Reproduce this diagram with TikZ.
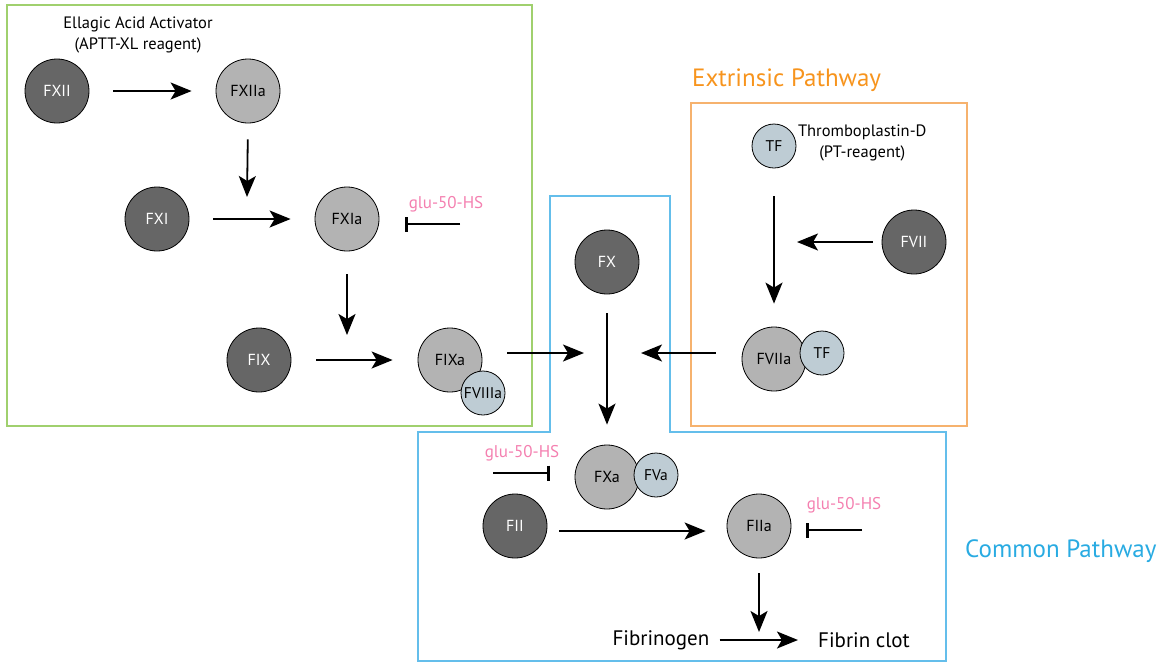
\documentclass[tikz,border=0pt]{standalone}
\usepackage{fontspec}
\setmainfont{PT Sans}
\usetikzlibrary{arrows.meta, positioning}

\definecolor{darkfactor}{RGB}{102,102,102}
\definecolor{lightfactor}{RGB}{179,179,179}
\definecolor{cofactorblue}{RGB}{190,204,212}
\definecolor{intrinsicgreen}{RGB}{160,208,110}
\definecolor{extrinsicorange}{RGB}{247,148,29}
\definecolor{extrinsicbox}{RGB}{246,178,110}
\definecolor{commonblue}{RGB}{41,171,226}
\definecolor{commonbox}{RGB}{100,190,235}
\definecolor{glupink}{RGB}{244,128,176}

\tikzset{
    zymogen/.style = {circle, draw = black, line width = 0.8pt, fill = darkfactor,
        text = white, minimum size = 64pt, inner sep = 0pt,
        font = \fontsize{16}{19}\selectfont},
    enzyme/.style = {zymogen, fill = lightfactor, text = black},
    cofactor/.style = {zymogen, fill = cofactorblue, text = black, minimum size = 44pt,
        font = \fontsize{15.5}{18}\selectfont},
    act/.style = {line width = 1.8pt, -{Stealth[length = 21pt, width = 17pt, inset = 5pt]}},
    inhib/.style = {line width = 1.8pt, -{Bar[width = 15pt, line width = 3pt]}},
    gap/.style = {shorten <= #1, shorten >= #1},
    glu/.style = {text = glupink, inner sep = 0pt, font = \fontsize{17}{20}\selectfont},
    reagent/.style = {align = center, inner sep = 0pt, font = \fontsize{16.5}{21}\selectfont},
    pathway/.style = {inner sep = 0pt, font = \fontsize{25}{28}\selectfont},
    plain/.style = {inner sep = 0pt, font = \fontsize{21}{24}\selectfont}
}

\begin{document}
\begin{tikzpicture}[x = 1pt, y = -1pt]

    \useasboundingbox (0,0) rectangle (1167,665);

    % pathway boxes
    \draw[intrinsicgreen, line width = 1.2pt] (7,5) rectangle (532,426);
    \draw[extrinsicbox, line width = 1.2pt] (691,103) rectangle (967,426);
    \draw[commonbox, line width = 1.2pt]
        (550,196) -- (670,196) -- (670,432) -- (946,432) -- (946,661)
        -- (418,661) -- (418,432) -- (550,432) -- cycle;

    \node[pathway, text = extrinsicorange, anchor = west] (extr) at (692,80) {Extrinsic Pathway};
    \node[pathway, text = commonblue, anchor = west] (comm) at (965,551) {Common Pathway};

    % intrinsic pathway
    \node[reagent] (ellagic) at (138,35) {Ellagic Acid Activator\\(APTT-XL reagent)};
    \node[zymogen] (FXII) at (57,91) {FXII};
    \node[enzyme] (FXIIa) at (248,91) {FXIIa};
    \node[zymogen] (FXI) at (157,219) {FXI};
    \node[enzyme] (FXIa) at (347,219) {FXIa};
    \node[zymogen] (FIX) at (259,360) {FIX};
    \node[enzyme] (FIXa) at (450,360) {FIXa};
    \node[cofactor] (FVIIIa) at (483,393) {FVIIIa};

    \coordinate (jXI) at (247,197);
    \coordinate (jIX) at (347,335);
    \coordinate (jXl) at (584,353);

    \draw[act, gap = 24pt] (FXII) -- (FXIIa);
    \draw[act, shorten <= 16pt] (FXIIa.south) -- (jXI);
    \draw[act, gap = 24pt] (FXI) -- (FXIa);
    \draw[act, shorten <= 23pt] (FXIa.south) -- (jIX);
    \draw[act, gap = 25pt] (FIX) -- (FIXa);
    \draw[act, shorten <= 25pt] (FIXa.east |- jXl) -- (jXl);

    \node[glu] (glu1) at (446,204) {glu-50-HS};
    \coordinate (i1) at (460,224);
    \draw[inhib, shorten >= 26pt] (i1) -- (i1 -| FXIa.east);

    % extrinsic pathway
    \node[cofactor] (TF) at (774,146) {TF};
    \node[reagent, right = 8pt of TF.north east, anchor = north west, yshift = 6pt] (thrombo)
        {Thromboplastin-D\\(PT-reagent)};
    \node[zymogen] (FVII) at (914,242) {FVII};
    \node[enzyme] (FVIIa) at (774,359) {FVIIa};
    \node[cofactor] (TFa) at (822,353) {TF};

    \coordinate (jVII) at (797,242);
    \coordinate (jXr) at (641,353);

    \draw[act, shorten <= 28pt, shorten >= 23pt] (TF) -- (FVIIa);
    \draw[act, shorten <= 9pt] (FVII.west) -- (jVII);
    \draw[act, shorten <= 26pt] (FVIIa.west |- jXr) -- (jXr);

    % common pathway
    \node[zymogen] (FX) at (607,262) {FX};
    \node[enzyme] (FXa) at (607,477) {FXa};
    \node[cofactor] (FVa) at (656,475) {FVa};
    \node[zymogen] (FII) at (515,526) {FII};
    \node[enzyme] (FIIa) at (759,526) {FIIa};
    \node[plain] (fibrinogen) at (661,640) {Fibrinogen};
    \node[plain] (clot) at (864,640) {Fibrin clot};

    \coordinate (jFib) at (759,632);

    \draw[act, shorten <= 19pt, shorten >= 20pt] (FX) -- (FXa);
    \draw[act, shorten <= 12pt, shorten >= 21pt]
        ([yshift = -5pt]FII.east) -- ([yshift = -5pt]FIIa.west);
    \draw[act, shorten <= 15pt] (FIIa.south) -- (jFib);
    \draw[act, shorten <= 10pt, shorten >= 20pt] (fibrinogen.east) -- (clot.west);

    \node[glu] (glu2) at (522,453) {glu-50-HS};
    \node[glu] (glu3) at (844,505) {glu-50-HS};
    \coordinate (i2) at (493,473);
    \coordinate (i3) at (862,530);
    \draw[inhib, shorten >= 25pt] (i2) -- (i2 -| FXa.west);
    \draw[inhib, shorten >= 15pt] (i3) -- (i3 -| FIIa.east);

\end{tikzpicture}
\end{document}
